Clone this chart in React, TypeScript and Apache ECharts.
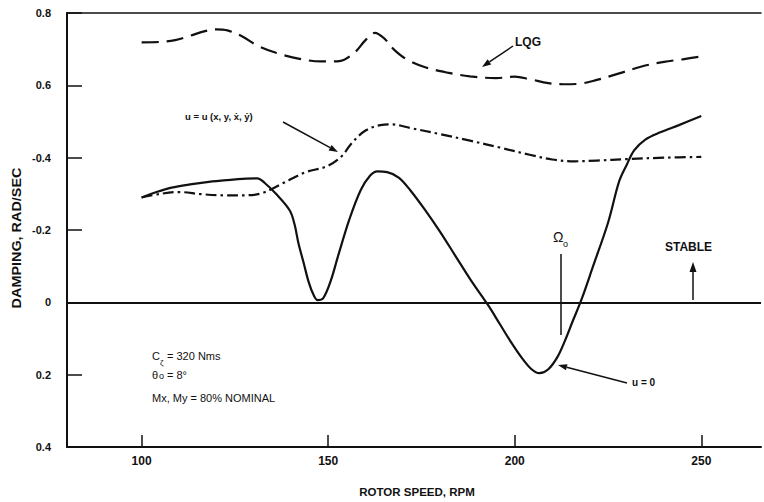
import { useEffect, useRef } from "react";
import * as echarts from "echarts";

// ---- data ----
const xTicks = [100, 150, 200, 250];
const yTickValues = [-0.4, -0.2, 0, 0.2, 0.4, 0.6, 0.8];
const yTickLabels = ["0.4", "0.2", "0", "-0.2", "-0.4", "0.6", "0.8"];

// u = 0 (solid)
const solidRpm = [100, 104, 108, 113, 118, 123, 128, 131, 133, 136, 139.7, 141, 142, 143.4, 144.8, 146.1, 147.2, 148.7, 150.7, 152.7, 155.7, 158.7, 161.2, 163.2, 165.8, 168.9, 172, 176, 180, 184, 188, 191, 193, 196, 199, 202, 204.5, 206.6, 209, 211.5, 213.5, 215.5, 217.9, 221, 225, 228, 230, 232, 235, 239, 244, 250];
const solidDamp = [0.29, 0.305, 0.317, 0.326, 0.333, 0.338, 0.342, 0.343, 0.33, 0.3, 0.254, 0.215, 0.165, 0.11, 0.055, 0.02, 0.006, 0.012, 0.06, 0.13, 0.23, 0.31, 0.35, 0.362, 0.36, 0.345, 0.31, 0.255, 0.195, 0.13, 0.065, 0.02, -0.01, -0.06, -0.11, -0.155, -0.185, -0.196, -0.185, -0.15, -0.105, -0.053, 0.008, 0.1, 0.22, 0.335, 0.38, 0.42, 0.45, 0.47, 0.49, 0.515];

// u = u(x, y, x', y') (dash-dot)
const ddRpm = [100, 105, 110, 116, 122, 127, 132, 137.8, 144, 149.6, 153.6, 156.3, 160, 164, 167, 172, 180, 188, 196, 204, 210, 216, 222, 230, 240, 250];
const ddDamp = [0.29, 0.3, 0.305, 0.299, 0.296, 0.296, 0.301, 0.329, 0.36, 0.376, 0.404, 0.44, 0.475, 0.49, 0.492, 0.482, 0.465, 0.447, 0.428, 0.408, 0.395, 0.39, 0.392, 0.396, 0.4, 0.402];

// LQG (dashed)
const lqgRpm = [100, 105, 109, 113, 117, 120, 123, 127, 131, 136, 142, 148, 153, 157, 160, 162.5, 165, 167.5, 171, 176, 182, 188, 195, 200, 204, 209, 213, 217, 222, 228, 234, 240, 245, 250];
const lqgDamp = [0.719, 0.72, 0.725, 0.737, 0.75, 0.755, 0.752, 0.735, 0.71, 0.69, 0.674, 0.666, 0.667, 0.69, 0.725, 0.745, 0.73, 0.7, 0.672, 0.65, 0.635, 0.625, 0.62, 0.624, 0.617, 0.606, 0.603, 0.604, 0.615, 0.633, 0.652, 0.665, 0.672, 0.68];

const INK = "#111";
const FONT = "'Liberation Sans', Arial, sans-serif";

function pairs(xs: number[], ys: number[]) {
  return xs.map((x, i) => [x, ys[i]]);
}

function arrow(x1: number, y1: number, x2: number, y2: number, head = 9, w = 3.2) {
  const dx = x2 - x1;
  const dy = y2 - y1;
  const len = Math.sqrt(dx * dx + dy * dy);
  const ux = dx / len;
  const uy = dy / len;
  const bx = x2 - ux * head;
  const by = y2 - uy * head;
  return [
    { type: "line", shape: { x1, y1, x2: bx, y2: by }, style: { stroke: INK, lineWidth: 1.5 }, silent: true },
    {
      type: "polygon",
      shape: { points: [[x2, y2], [bx - uy * w, by + ux * w], [bx + uy * w, by - ux * w]] },
      style: { fill: INK },
      silent: true,
    },
  ];
}

function txt(x: number, y: number, text: string, size: number, weight = "normal", align = "left") {
  return {
    type: "text",
    x,
    y,
    silent: true,
    style: {
      text,
      fill: INK,
      fontSize: size,
      fontFamily: FONT,
      fontWeight: weight,
      align,
      verticalAlign: "middle",
      textAlign: align,
      textVerticalAlign: "middle",
    },
  };
}

export default function App() {
  const ref = useRef<HTMLDivElement>(null);
  useEffect(() => {
    if (!ref.current) return;
    const chart = echarts.init(ref.current, undefined, { renderer: "svg" });
    const axisCommon = {
      type: "value",
      min: 80,
      max: 266,
      splitLine: { show: false },
    };
    chart.setOption({
      animation: false,
      backgroundColor: "#fff",
      grid: { left: 67, right: 3, top: 13, bottom: 55, containLabel: false },
      xAxis: [
        {
          ...axisCommon,
          position: "bottom",
          axisLine: { show: true, onZero: false, lineStyle: { color: INK, width: 2 } },
          axisTick: { show: true, inside: true, length: 12, customValues: xTicks, lineStyle: { color: INK, width: 1.5 } },
          axisLabel: {
            show: true,
            customValues: xTicks,
            margin: 8,
            color: INK,
            fontSize: 12,
            fontWeight: "bold",
            fontFamily: FONT,
          },
        },
        {
          ...axisCommon,
          position: "top",
          axisLine: { show: true, onZero: false, lineStyle: { color: INK, width: 1.5 } },
          axisTick: { show: false },
          axisLabel: { show: false },
        },
      ],
      yAxis: {
        type: "value",
        min: -0.4,
        max: 0.8,
        interval: 0.2,
        splitLine: { show: false },
        axisLine: { show: true, onZero: false, lineStyle: { color: INK, width: 2 } },
        axisTick: { show: true, inside: true, length: 15, lineStyle: { color: INK, width: 1.5 } },
        axisLabel: {
          margin: 16,
          color: INK,
          fontSize: 11,
          fontWeight: "bold",
          fontFamily: FONT,
          formatter: (v: number) => {
            const i = yTickValues.findIndex((t) => Math.abs(t - v) < 1e-6);
            return i >= 0 ? yTickLabels[i] : "";
          },
        },
      },
      series: [
        {
          name: "u = 0",
          type: "line",
          data: pairs(solidRpm, solidDamp),
          smooth: 0.35,
          symbol: "none",
          lineStyle: { color: INK, width: 2.2, type: "solid" },
          markLine: {
            silent: true,
            symbol: ["none", "none"],
            label: { show: false },
            lineStyle: { color: INK, width: 2, type: "solid" },
            data: [{ yAxis: 0 }],
          },
        },
        {
          name: "u = u(x, y, ẋ, ẏ)",
          type: "line",
          data: pairs(ddRpm, ddDamp),
          smooth: 0.35,
          symbol: "none",
          lineStyle: { color: INK, width: 2.2, type: [11, 4, 2.5, 4] },
        },
        {
          name: "LQG",
          type: "line",
          data: pairs(lqgRpm, lqgDamp),
          smooth: 0.35,
          symbol: "none",
          lineStyle: { color: INK, width: 2.2, type: [17, 8] },
        },
      ],
      graphic: [
        // axis titles
        {
          type: "text",
          x: 17,
          y: 238,
          rotation: Math.PI / 2,
          scaleX: 1.2,
          silent: true,
          style: {
            text: "DAMPING, RAD/SEC",
            fill: INK,
            fontSize: 12,
            fontFamily: FONT,
            fontWeight: "bold",
            align: "center",
            verticalAlign: "middle",
            textAlign: "center",
            textVerticalAlign: "middle",
          },
        },
        txt(417, 492, "ROTOR SPEED, RPM", 11.5, "bold", "center"),
        // LQG label
        txt(515, 42, "LQG", 12, "bold"),
        ...arrow(513, 46, 482, 67),
        // u = u(...) label
        txt(185, 116, "u = u (x, y, ẋ, ẏ)", 9.5, "bold"),
        ...arrow(283, 122, 338, 152),
        // Omega_0
        txt(553, 237, "Ω", 14, "normal"),
        txt(563, 244, "o", 9, "normal"),
        { type: "line", shape: { x1: 561, y1: 254, x2: 561, y2: 335 }, style: { stroke: INK, lineWidth: 1.5 }, silent: true },
        // STABLE
        txt(665, 247, "STABLE", 12, "bold"),
        ...arrow(693, 300, 693, 262, 10, 3.5),
        // u = 0
        txt(632, 382, "u = 0", 10, "bold"),
        ...arrow(627, 383, 558, 365),
        // parameters
        txt(152, 356, "C", 11, "normal"),
        txt(160, 362, "ζ", 8, "normal"),
        txt(167, 356, "= 320 Nms", 11, "normal"),
        txt(152, 375, "θ", 11, "normal"),
        txt(159, 376, "o", 9, "normal"),
        txt(167, 375, "= 8°", 11, "normal"),
        txt(152, 398, "Mx, My = 80% NOMINAL", 11, "normal"),
      ],
    });
    return () => chart.dispose();
  }, []);
  return (
    <div
      ref={ref}
      style={{ position: "fixed", left: 0, top: 0, width: 764, height: 502, background: "#fff" }}
    />
  );
}
